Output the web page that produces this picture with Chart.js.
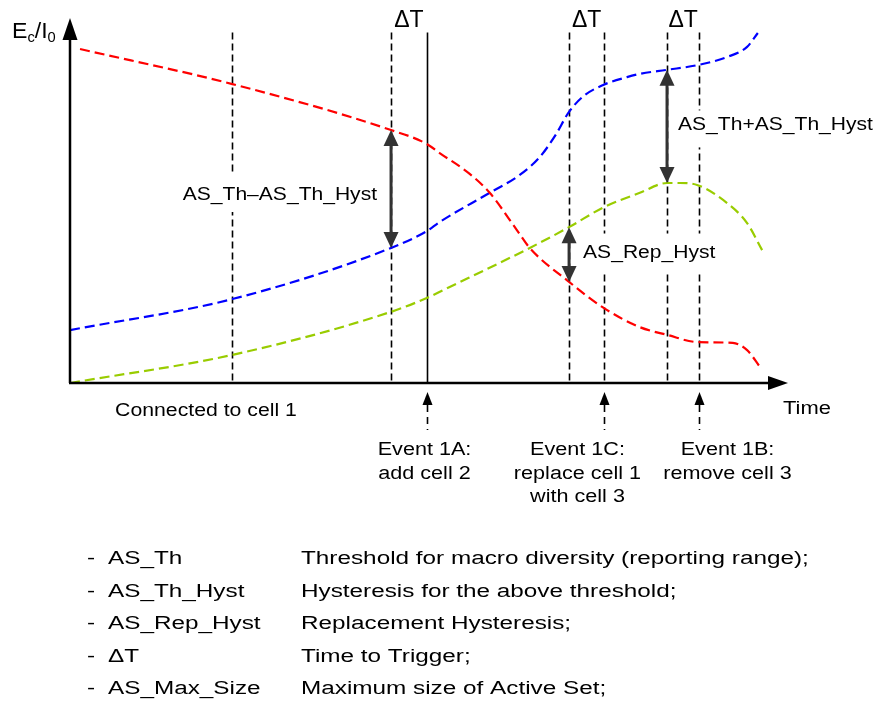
<!DOCTYPE html>
<html>
<head>
<meta charset="utf-8">
<script src="https://cdn.jsdelivr.net/npm/chart.js@4.4.1/dist/chart.umd.min.js"></script>
<style>
  body { margin: 0; background: #fff; }
  #chart { display: block; }
</style>
</head>
<body>
<canvas id="chart" width="879" height="702"></canvas>
<script>
// curves (time 0..10, level 0..10)
const redTime    = [0.14, 2.27, 4.49, 4.99, 5.17, 5.59, 5.87, 6.25, 6.43, 6.98, 7.47, 7.97, 8.35, 8.78, 9.27, 9.47, 9.65];
const redLevel   = [9.15, 8.19, 6.93, 6.55, 6.30, 5.73, 5.21, 4.19, 3.70, 2.77, 2.05, 1.53, 1.32, 1.12, 1.10, 0.90, 0.44];
const blueTime   = [0.00, 2.27, 4.49, 4.99, 5.17, 5.87, 6.29, 6.57, 6.79, 6.97, 7.17, 7.45, 7.79, 7.97, 8.35, 8.78, 9.19, 9.47, 9.62];
const blueLevel  = [1.45, 2.30, 3.70, 4.16, 4.41, 5.21, 5.70, 6.19, 6.79, 7.40, 7.84, 8.16, 8.38, 8.47, 8.58, 8.71, 8.93, 9.21, 9.59];
const greenTime  = [0.00, 2.27, 4.49, 4.99, 5.31, 6.43, 6.98, 7.47, 7.97, 8.35, 8.53, 8.78, 9.19, 9.47, 9.68];
const greenLevel = [0.00, 0.77, 1.95, 2.33, 2.63, 3.70, 4.27, 4.82, 5.21, 5.48, 5.48, 5.42, 4.93, 4.38, 3.64];

// vertical markers
const markerTime  = [2.27, 4.49, 4.99, 6.98, 7.47, 8.35, 8.80];
const markerSolid = [false, false, true, false, false, false, false];
const markerTop   = 9.6;

// time-to-trigger windows
const windowStart = [4.49, 6.98, 8.35];
const windowEnd   = [4.99, 7.47, 8.80];

// hysteresis arrows
const hystTime   = [4.49, 6.98, 8.35];
const hystTop    = [6.93, 4.27, 8.58];
const hystBottom = [3.70, 2.77, 5.48];
const hystLabels = ['AS_Th\u2013AS_Th_Hyst', 'AS_Rep_Hyst', 'AS_Th+AS_Th_Hyst'];

// events under the time axis
const eventTime   = [4.99, 7.47, 8.80];
const eventLabels = [['Event 1A:', 'add cell 2'], ['Event 1C:', 'replace cell 1', 'with cell 3'], ['Event 1B:', 'remove cell 3']];

const legendNames = ['AS_Th', 'AS_Th_Hyst', 'AS_Rep_Hyst', '\u0394T', 'AS_Max_Size'];
const legendDescs = ['Threshold for macro diversity (reporting range);', 'Hysteresis for the above threshold;',
                     'Replacement Hysteresis;', 'Time to Trigger;', 'Maximum size of Active Set;'];

const FONT = '"Liberation Sans", Arial, sans-serif';

function txt(ctx, s, x, y, o) {
  o = o || {};
  const size = o.size || 18, sx = o.sx || 1.2;
  ctx.save();
  ctx.font = size + 'px ' + FONT;
  ctx.textBaseline = 'alphabetic';
  const w = ctx.measureText(s).width * sx;
  let left = x;
  if (o.align === 'center') left = x - w / 2;
  else if (o.align === 'right') left = x - w;
  if (o.bg) {
    ctx.fillStyle = '#fff';
    ctx.fillRect(left - 4, y - o.bg[0], w + 8, o.bg[0] + o.bg[1]);
  }
  ctx.translate(left, y);
  ctx.scale(sx, 1);
  ctx.fillStyle = o.color || '#000';
  ctx.fillText(s, 0, 0);
  ctx.restore();
  return w;
}

function head(ctx, x, y, dir, len, half) {
  ctx.beginPath();
  if (dir === 'up') { ctx.moveTo(x, y); ctx.lineTo(x - half, y + len); ctx.lineTo(x + half, y + len); }
  else if (dir === 'down') { ctx.moveTo(x, y); ctx.lineTo(x - half, y - len); ctx.lineTo(x + half, y - len); }
  else { ctx.moveTo(x, y); ctx.lineTo(x - len, y - half); ctx.lineTo(x - len, y + half); }
  ctx.closePath();
  ctx.fill();
}

const diagram = {
  id: 'diagram',
  beforeDatasetsDraw(chart) {
    const ctx = chart.ctx, xs = chart.scales.x, ys = chart.scales.y;
    const y0 = ys.getPixelForValue(0), yt = ys.getPixelForValue(markerTop);
    ctx.save();
    ctx.strokeStyle = '#000';
    markerTime.forEach((t, i) => {
      const px = Math.round(xs.getPixelForValue(t)) + 0.5;
      ctx.lineWidth = 1.6;
      ctx.setLineDash(markerSolid[i] ? [] : [7, 4]);
      ctx.beginPath(); ctx.moveTo(px, yt); ctx.lineTo(px, y0); ctx.stroke();
    });
    ctx.setLineDash([]);
    windowStart.forEach((t, i) => {
      const cx = (xs.getPixelForValue(t) + xs.getPixelForValue(windowEnd[i])) / 2;
      txt(ctx, '\u0394T', cx, 27, { size: 23, sx: 1, align: 'center' });
    });
    // hysteresis labels with white boxes
    hystTime.forEach((t, i) => {
      const px = xs.getPixelForValue(t);
      const mid = (ys.getPixelForValue(hystTop[i]) + ys.getPixelForValue(hystBottom[i])) / 2;
      if (i === 0) txt(ctx, hystLabels[i], px - 14, mid + 11, { align: 'right', sx: 1.17, bg: [27, 12] });
      else if (i === 1) txt(ctx, hystLabels[i], px + 14, mid + 3, { sx: 1.17, bg: [24, 16] });
      else txt(ctx, hystLabels[i], px + 11, mid + 4, { sx: 1.17, bg: [20, 17] });
    });
    ctx.restore();
  },
  afterDatasetsDraw(chart) {
    const ctx = chart.ctx, xs = chart.scales.x, ys = chart.scales.y, a = chart.chartArea;
    const x0 = xs.getPixelForValue(0), y0 = ys.getPixelForValue(0);
    ctx.save();
    // double arrows
    ctx.fillStyle = '#333'; ctx.strokeStyle = '#333'; ctx.lineWidth = 3;
    hystTime.forEach((t, i) => {
      const px = xs.getPixelForValue(t);
      const top = ys.getPixelForValue(hystTop[i]), bot = ys.getPixelForValue(hystBottom[i]);
      ctx.beginPath(); ctx.moveTo(px, top + 14); ctx.lineTo(px, bot - 14); ctx.stroke();
      head(ctx, px, top, 'up', 16, 7.5);
      head(ctx, px, bot, 'down', 16, 7.5);
    });
    // axes
    ctx.fillStyle = '#000'; ctx.strokeStyle = '#000'; ctx.lineWidth = 2.5;
    ctx.beginPath(); ctx.moveTo(x0, y0); ctx.lineTo(x0, a.top + 20); ctx.stroke();
    ctx.beginPath(); ctx.moveTo(x0 - 1, y0); ctx.lineTo(a.right - 15, y0); ctx.stroke();
    head(ctx, x0, a.top, 'up', 22, 7.5);
    head(ctx, a.right + 3, y0, 'right', 20, 7);
    // event arrows
    eventTime.forEach((t, i) => {
      const px = Math.round(xs.getPixelForValue(t)) + 0.5;
      head(ctx, px, y0 + 9, 'up', 13, 5);
      ctx.lineWidth = 1.6; ctx.setLineDash([7, 5]);
      ctx.beginPath(); ctx.moveTo(px, y0 + 22); ctx.lineTo(px, y0 + 47); ctx.stroke();
      ctx.setLineDash([]);
      const cx = px + [-3, -27, 28][i];
      eventLabels[i].forEach((line, j) => txt(ctx, line, cx, y0 + 72 + j * 23.5, { align: 'center', sx: 1.2 }));
    });
    txt(ctx, 'Time', a.right - 2, y0 + 31, { sx: 1.22 });
    txt(ctx, 'Connected to cell 1', 206, y0 + 33, { align: 'center', sx: 1.18 });
    // y-axis title E_c/I_0
    let x = 12;
    x += txt(ctx, 'E', x, 38, { size: 22, sx: 1.05 });
    x += txt(ctx, 'c', x, 42, { size: 14, sx: 1.05 });
    x += txt(ctx, '/I', x, 38, { size: 22, sx: 1.05 });
    txt(ctx, '0', x, 42, { size: 14, sx: 1.05 });
    ctx.restore();
  },
  afterDraw(chart) {
    const ctx = chart.ctx;
    legendNames.forEach((n, i) => {
      const y = 564 + i * 32.5;
      txt(ctx, '-', 87, y, { sx: 1.35 });
      txt(ctx, n, 108, y, { sx: 1.35 });
      txt(ctx, legendDescs[i], 301, y, { sx: 1.35 });
    });
  }
};

function series(tx, lv) { return tx.map((t, i) => ({ x: t, y: lv[i] })); }

const lineStyle = { borderWidth: 2.2, borderDash: [10, 5], pointRadius: 0, fill: false, cubicInterpolationMode: 'monotone' };

new Chart(document.getElementById('chart'), {
  type: 'line',
  data: {
    datasets: [
      Object.assign({ label: 'cell 1', data: series(redTime, redLevel), borderColor: '#ff0000' }, lineStyle),
      Object.assign({ label: 'cell 2', data: series(blueTime, blueLevel), borderColor: '#0000ff' }, lineStyle),
      Object.assign({ label: 'cell 3', data: series(greenTime, greenLevel), borderColor: '#99cc00' }, lineStyle)
    ]
  },
  options: {
    responsive: false,
    animation: false,
    layout: { padding: { left: 70, right: 94, top: 18, bottom: 319 } },
    scales: {
      x: { type: 'linear', min: 0, max: 10, display: false },
      y: { min: 0, max: 10, display: false }
    },
    plugins: { legend: { display: false }, tooltip: { enabled: false } }
  },
  plugins: [diagram]
});
</script>
</body>
</html>
